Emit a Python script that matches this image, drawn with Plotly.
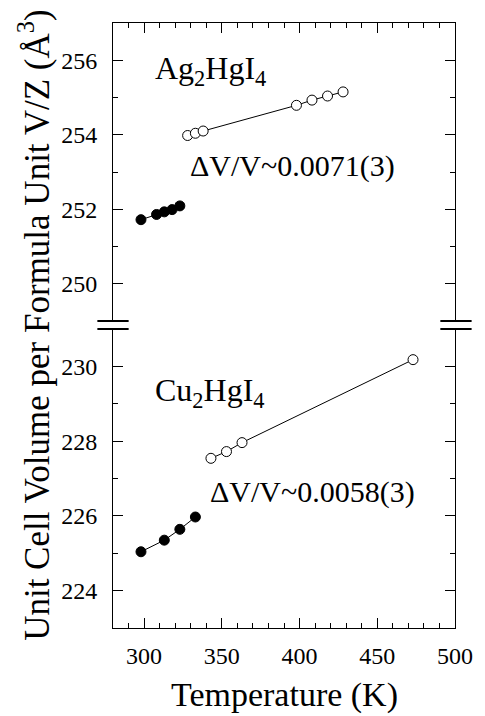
import plotly.graph_objects as go

# Ag2HgI4 (top panel)
ag_T_low = [298, 308, 313, 318, 323]
ag_V_low = [251.72, 251.86, 251.93, 251.99, 252.09]
ag_T_high = [328, 333, 338, 398, 408, 418, 428]
ag_V_high = [253.98, 254.04, 254.10, 254.79, 254.93, 255.04, 255.15]

# Cu2HgI4 (bottom panel)
cu_T_low = [298, 313, 323, 333]
cu_V_low = [225.04, 225.35, 225.64, 225.97]
cu_T_high = [343, 353, 363, 473]
cu_V_high = [227.54, 227.72, 227.96, 230.18]

x_ticks = [300, 350, 400, 450, 500]
top_y_ticks = [250, 252, 254, 256]
bot_y_ticks = [224, 226, 228, 230]

FONT = "Liberation Serif, Times New Roman, serif"
W, H = 485, 716
ML, MR, MT, MB = 113, 22, 23, 88
pw, ph = W - ML - MR, H - MT - MB

def py(pxv):  # pixel y -> paper
    return (H - MB - pxv) / ph

def px(pxv):
    return (pxv - ML) / pw

top_dom = [py(321), 1.0]
bot_dom = [0.0, py(329)]

fig = go.Figure()

def add_pair(T, V, filled, xa, ya):
    fig.add_trace(go.Scatter(
        x=T, y=V, xaxis=xa, yaxis=ya, mode="lines+markers",
        line=dict(color="black", width=1),
        marker=dict(size=10, color="black" if filled else "white",
                    line=dict(color="black", width=1)),
        showlegend=False, hoverinfo="skip"))

add_pair(ag_T_low, ag_V_low, True, "x2", "y2")
add_pair(ag_T_high, ag_V_high, False, "x2", "y2")
add_pair(cu_T_low, cu_V_low, True, "x", "y")
add_pair(cu_T_high, cu_V_high, False, "x", "y")

tickfont = dict(family=FONT, size=24, color="black")
common_x = dict(range=[280, 500], tickvals=x_ticks, ticks="inside", ticklen=10,
                tickwidth=1, tickcolor="black", showline=True, linecolor="black",
                linewidth=1, showgrid=False, zeroline=False,
                minor=dict(dtick=10, tick0=280, ticks="inside", ticklen=5,
                           tickcolor="black", tickwidth=1, showgrid=False))
common_y = dict(ticks="inside", ticklen=10, tickwidth=1, tickcolor="black",
                showline=True, linecolor="black", linewidth=1, mirror="ticks",
                showgrid=False, zeroline=False, tickfont=tickfont,
                ticklabelstandoff=10,
                minor=dict(dtick=1, ticks="inside", ticklen=5, tickcolor="black",
                           tickwidth=1, showgrid=False))

fig.update_layout(
    width=W, height=H,
    margin=dict(l=ML, r=MR, t=MT, b=MB),
    plot_bgcolor="white", paper_bgcolor="white",
    xaxis=dict(anchor="y", domain=[0, 1], tickfont=tickfont,
               ticklabelstandoff=6, **common_x),
    xaxis2=dict(anchor="y2", domain=[0, 1], side="top", matches="x",
                showticklabels=False, **common_x),
    yaxis=dict(anchor="x", domain=bot_dom, range=[223, 231],
               tickvals=bot_y_ticks, **common_y),
    yaxis2=dict(anchor="x2", domain=top_dom, range=[249, 257],
                tickvals=top_y_ticks, **common_y),
)

# axis break marks
for yv in [top_dom[0], bot_dom[1]]:
    for x0, x1 in [(px(97), px(129)), (px(448), px(480))]:
        fig.add_shape(type="line", xref="paper", yref="paper",
                      x0=x0, x1=x1, y0=yv, y1=yv,
                      line=dict(color="black", width=2))

lab = dict(family=FONT, size=32, color="black")
dlab = dict(family=FONT, size=30, color="black")
fig.add_annotation(x=305.5, y=255.72, xref="x2", yref="y2", xanchor="left",
                   yanchor="middle", showarrow=False, font=lab,
                   text="Ag<sub>2</sub>HgI<sub>4</sub>")
fig.add_annotation(x=328.5, y=253.15, xref="x2", yref="y2", xanchor="left",
                   yanchor="middle", showarrow=False, font=dlab,
                   text="ΔV/V~0.0071(3)")
fig.add_annotation(x=305.5, y=229.3, xref="x", yref="y", xanchor="left",
                   yanchor="middle", showarrow=False, font=lab,
                   text="Cu<sub>2</sub>HgI<sub>4</sub>")
fig.add_annotation(x=341.25, y=226.63, xref="x", yref="y", xanchor="left",
                   yanchor="middle", showarrow=False, font=dlab,
                   text="ΔV/V~0.0058(3)")

titlefont = dict(family=FONT, size=34, color="black")
fig.add_annotation(x=px(289), y=py(716), xref="paper", yref="paper",
                   xanchor="center", yanchor="bottom", showarrow=False,
                   font=titlefont, text="Temperature (K)")
fig.add_annotation(x=px(32), y=py(325), xref="paper", yref="paper",
                   xanchor="center", yanchor="middle", showarrow=False,
                   textangle=-90, font=dict(family=FONT, size=35, color="black"),
                   text="Unit Cell Volume per Formula Unit V/Z (Å<sup>3</sup>)")

fig.write_html("out.html")
